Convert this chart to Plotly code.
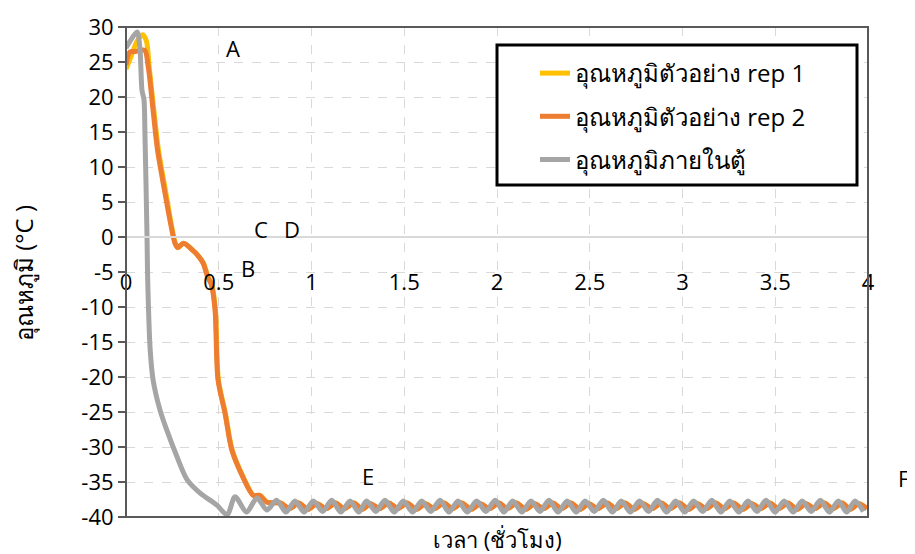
import plotly.graph_objects as go

# ---------------- data (hours, °C) ----------------
# inside-cabinet temperature: descent part
gray_x_start = [0.00, 0.03, 0.06, 0.075, 0.086, 0.097, 0.102, 0.113, 0.116, 0.121, 0.13, 0.146,
                0.183, 0.22, 0.275, 0.33, 0.40, 0.49, 0.545, 0.588, 0.65, 0.706, 0.76]
gray_y_start = [27.0, 28.3, 29.3, 27.0, 21.0, 19.6, 14.9, 0.6, -5.0, -10.0, -16.0, -20.4,
                -24.7, -27.6, -31.4, -34.7, -36.6, -38.3, -39.7, -37.1, -39.3, -37.3, -39.0]
# inside-cabinet temperature: cycling part (peaks and troughs)
gray_peak_x = [0.812, 0.911, 1.010, 1.109, 1.208, 1.297, 1.396, 1.495, 1.594, 1.693, 1.790,
               1.890, 1.990, 2.085, 2.183, 2.280, 2.378, 2.475, 2.573, 2.670, 2.768, 2.865,
               2.963, 3.060, 3.158, 3.255, 3.353, 3.450, 3.548, 3.645, 3.743, 3.840, 3.930]
gray_peak_y = [-37.6, -37.7, -37.7, -37.6, -37.7, -37.7, -37.6, -37.7, -37.7, -37.6, -37.7,
               -37.7, -37.6, -37.7, -37.7, -37.6, -37.7, -37.7, -37.6, -37.7, -37.7, -37.6,
               -37.7, -37.7, -37.6, -37.7, -37.7, -37.6, -37.7, -37.7, -37.6, -37.7, -37.7]
gray_trough_x = [0.862, 0.960, 1.060, 1.158, 1.255, 1.347, 1.446, 1.545, 1.643, 1.741, 1.840,
                 1.940, 2.037, 2.134, 2.232, 2.329, 2.427, 2.524, 2.622, 2.719, 2.817, 2.914,
                 3.012, 3.109, 3.207, 3.304, 3.402, 3.499, 3.597, 3.694, 3.792, 3.885, 3.975]
gray_trough_y = [-39.3, -39.3, -39.2, -39.3, -39.3, -39.2, -39.3, -39.3, -39.2, -39.3, -39.3,
                 -39.2, -39.3, -39.3, -39.2, -39.3, -39.3, -39.2, -39.3, -39.3, -39.2, -39.3,
                 -39.3, -39.2, -39.3, -39.3, -39.2, -39.3, -39.3, -39.2, -39.3, -39.3, -39.2]

# sample rep 2
rep2_x_start = [0.00, 0.02, 0.05, 0.10, 0.12, 0.146, 0.17, 0.21, 0.237, 0.264, 0.278, 0.31,
                0.36, 0.38, 0.415, 0.44, 0.46, 0.48, 0.496, 0.534, 0.57, 0.63, 0.685, 0.72, 0.76]
rep2_y_start = [24.6, 26.4, 26.5, 26.7, 24.3, 18.1, 12.4, 6.3, 2.4, -0.9, -1.5, -0.9,
                -1.9, -2.4, -3.7, -5.7, -6.8, -10.4, -20.4, -25.2, -30.4, -34.3, -36.9, -36.9, -37.9]
rep2_peak_y = [-38.0, -38.0, -38.1, -38.0, -38.0, -38.1, -38.0, -38.0, -38.1, -38.0, -38.0,
               -38.1, -38.0, -38.0, -38.1, -38.0, -38.0, -38.1, -38.0, -38.0, -38.1, -38.0,
               -38.0, -38.1, -38.0, -38.0, -38.1, -38.0, -38.0, -38.1, -38.0, -38.0, -38.1]
rep2_trough_y = [-38.8, -38.9, -38.8, -38.8, -38.9, -38.8, -38.8, -38.9, -38.8, -38.8, -38.9,
                 -38.8, -38.8, -38.9, -38.8, -38.8, -38.9, -38.8, -38.8, -38.9, -38.8, -38.8,
                 -38.9, -38.8, -38.8, -38.9, -38.8, -38.8, -38.9, -38.8, -38.8, -38.9, -38.8]
rep2_lag = 0.02

# sample rep 1
rep1_x_start = [0.00, 0.03, 0.06, 0.09, 0.11, 0.125, 0.15, 0.175, 0.215, 0.24, 0.266, 0.28, 0.312,
                0.36, 0.38, 0.417, 0.442, 0.462, 0.482, 0.498, 0.536, 0.572, 0.632, 0.687, 0.722, 0.762]
rep1_y_start = [24.0, 26.0, 28.0, 28.9, 28.0, 24.3, 18.1, 12.4, 6.3, 2.4, -0.9, -1.5, -0.9,
                -1.9, -2.4, -3.7, -5.7, -6.8, -10.4, -20.4, -25.2, -30.4, -34.3, -36.9, -36.9, -37.9]

legend_names = ["อุณหภูมิตัวอย่าง rep 1", "อุณหภูมิตัวอย่าง rep 2", "อุณหภูมิภายในตู้"]
colors = ["#FFC000", "#ED7D31", "#A5A5A5"]
y_ticks = [30, 25, 20, 15, 10, 5, 0, -5, -10, -15, -20, -25, -30, -35, -40]
y_tick_text = ["30", "25", "20", "15", "10", "5", "0", "-5", "-10", "-15", "-20", "-25",
               "-30", "-35", "-40"]
x_ticks = [0, 0.5, 1, 1.5, 2, 2.5, 3, 3.5, 4]
x_tick_text = ["0", "0.5", "1", "1.5", "2", "2.5", "3", "3.5", "4"]
point_labels = ["A", "B", "C", "D", "E", "F"]
point_x = [0.577, 0.658, 0.728, 0.895, 1.305, 4.23]
point_y = [27.0, -4.4, 1.1, 1.1, -34.1, -34.4]
x_title = "เวลา (ชั่วโมง)"
y_title = "อุณหภูมิ (°C )"


def interleave(px, py, tx, ty):
    xs, ys = [], []
    for a, b, c, d in zip(px, py, tx, ty):
        xs += [a, c]
        ys += [b, d]
    return xs, ys


gx, gy = interleave(gray_peak_x, gray_peak_y, gray_trough_x, gray_trough_y)
gray_x = gray_x_start + gx
gray_y = gray_y_start + gy

r2x, r2y = interleave([v + rep2_lag for v in gray_peak_x], rep2_peak_y,
                      [v + rep2_lag for v in gray_trough_x], rep2_trough_y)
n_keep = len([v for v in r2x if v <= 4.0])
rep2_x = rep2_x_start + r2x[:n_keep]
rep2_y = rep2_y_start + r2y[:n_keep]
rep1_x = rep1_x_start + r2x[:n_keep]
rep1_y = rep1_y_start + r2y[:n_keep]

FONT = "Open Sans, Noto Sans, DejaVu Sans, sans-serif"
X_MAX = 4.0

# page body has an 8px margin: plot area should land at x 126..868, y 27..517 of the window
L, T, R, B = 118, 19, 55, 45
PW, PH = 742, 490

fig = go.Figure()
series = [(rep1_x, rep1_y), (rep2_x, rep2_y), (gray_x, gray_y)]
for i, (xs, ys) in enumerate(series):
    fig.add_trace(go.Scatter(
        x=xs, y=ys, mode="lines", name=legend_names[i],
        line=dict(color=colors[i], width=5, shape="spline", smoothing=0.8),
        legendgroup=f"g{i}", cliponaxis=True,
    ))

for t, x, y in zip(point_labels, point_x, point_y):
    if x <= X_MAX:
        fig.add_annotation(x=x, y=y, text=t, showarrow=False, xref="x", yref="y",
                           font=dict(size=22, color="black", family=FONT))
    else:  # label placed beyond the right end of the axis
        fig.add_annotation(x=x / X_MAX, y=y, text=t, showarrow=False, xref="paper", yref="y",
                           font=dict(size=22, color="black", family=FONT))

fig.add_annotation(x=0.5, y=-(539 - 517) / PH, xref="paper", yref="paper", text=x_title,
                   showarrow=False, yanchor="middle",
                   font=dict(size=22, color="black", family=FONT))
fig.add_annotation(x=-(126 - 23) / PW, y=(517 - 273) / PH, xref="paper", yref="paper",
                   text=y_title, showarrow=False, textangle=-90, xanchor="center",
                   yanchor="middle", font=dict(size=24, color="black", family=FONT))

# plot-area frame
fig.add_shape(type="rect", xref="paper", yref="paper", x0=0, x1=1, y0=0, y1=1,
              line=dict(color="#595959", width=2), layer="above")
# legend box
fig.add_shape(type="rect", xref="paper", yref="paper",
              x0=(497 - 126) / PW, x1=(857 - 126) / PW,
              y0=(517 - 185) / PH, y1=(517 - 45) / PH,
              line=dict(color="black", width=3), fillcolor="white", layer="above")

fig.update_layout(
    width=915, height=554,
    margin=dict(l=L, r=R, t=T, b=B, autoexpand=False),
    paper_bgcolor="white", plot_bgcolor="white",
    font=dict(family=FONT, size=20, color="black"),
    showlegend=True,
    legend=dict(x=(535 - 126) / PW, y=(517 - 51) / PH, xanchor="left", yanchor="top",
                bgcolor="rgba(0,0,0,0)", borderwidth=0, tracegroupgap=9,
                font=dict(size=24, color="black", family=FONT), itemwidth=30),
    xaxis=dict(range=[0, X_MAX], tickvals=x_ticks, ticktext=x_tick_text, automargin=False,
               anchor="free", position=40 / 70, showline=True, linecolor="#D9D9D9", linewidth=2,
               ticks="", ticklabelstandoff=26, showgrid=True, gridcolor="#D9D9D9",
               griddash="dash", gridwidth=1, zeroline=False,
               tickfont=dict(size=22, color="black", family=FONT)),
    yaxis=dict(range=[-40, 30], tickvals=y_ticks, ticktext=y_tick_text, showgrid=True,
               gridcolor="#D9D9D9", griddash="dash", gridwidth=1, zeroline=False,
               ticks="outside", ticklen=7, tickcolor="#595959", tickwidth=1.5,
               showline=False, automargin=False,
               tickfont=dict(size=22, color="black", family=FONT)),
)

fig.write_html("out.html")
